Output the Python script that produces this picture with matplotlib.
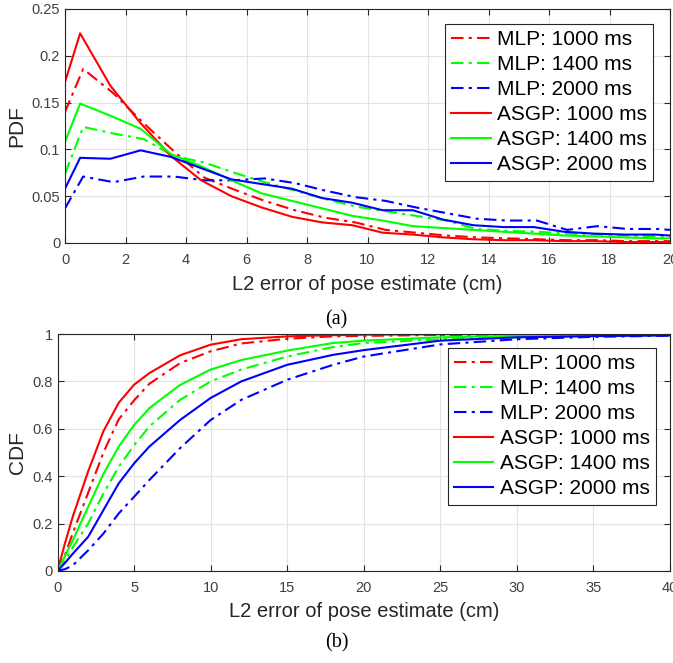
import matplotlib
matplotlib.use("Agg")
import matplotlib.pyplot as plt

# ---------------- PDF data ----------------
x_asgp = [0, 0.5, 1.5, 2.5, 3.5, 4.5, 5.5, 6.5, 7.5, 8.5, 9.5, 10.5, 11.5, 12.5,
          13.5, 14.5, 15.5, 16.5, 17.5, 18.5, 19.5, 20]
x_mlp = [0, 0.6, 1.6, 2.6, 3.6, 4.6, 5.6, 6.6, 7.6, 8.6, 9.6, 10.6, 11.6, 12.6,
         13.6, 14.6, 15.6, 16.6, 17.6, 18.6, 19.6, 20]

pdf_mlp_1000 = [0.140, 0.186, 0.160, 0.128, 0.098, 0.070, 0.057, 0.045, 0.035, 0.027,
                0.022, 0.014, 0.011, 0.008, 0.006, 0.005, 0.004, 0.003, 0.003, 0.002,
                0.002, 0.002]
pdf_mlp_1400 = [0.074, 0.124, 0.117, 0.111, 0.093, 0.086, 0.075, 0.065, 0.056, 0.047,
                0.039, 0.034, 0.029, 0.024, 0.015, 0.013, 0.012, 0.010, 0.009, 0.008,
                0.007, 0.006]
pdf_mlp_2000 = [0.037, 0.071, 0.065, 0.071, 0.071, 0.067, 0.067, 0.069, 0.064, 0.056,
                0.049, 0.045, 0.038, 0.032, 0.026, 0.024, 0.024, 0.014, 0.018, 0.015,
                0.015, 0.014]
pdf_asgp_1000 = [0.172, 0.224, 0.168, 0.128, 0.093, 0.067, 0.050, 0.038, 0.028, 0.022,
                 0.019, 0.011, 0.009, 0.006, 0.004, 0.003, 0.003, 0.002, 0.002, 0.001,
                 0.001, 0.001]
pdf_asgp_1400 = [0.108, 0.149, 0.136, 0.122, 0.095, 0.082, 0.067, 0.053, 0.045, 0.037,
                 0.029, 0.024, 0.018, 0.016, 0.014, 0.012, 0.010, 0.008, 0.007, 0.006,
                 0.005, 0.005]
pdf_asgp_2000 = [0.058, 0.091, 0.090, 0.099, 0.092, 0.080, 0.068, 0.063, 0.058, 0.048,
                 0.043, 0.035, 0.035, 0.025, 0.019, 0.017, 0.017, 0.012, 0.010, 0.009,
                 0.009, 0.008]

# ---------------- CDF data ----------------
x_cdf = [0, 0.5, 1, 2, 3, 4, 5, 6, 8, 10, 12, 15, 18, 20, 25, 30, 35, 40]
cdf_mlp_1000 = [0, 0.07, 0.16, 0.33, 0.50, 0.64, 0.72, 0.79, 0.877, 0.927, 0.96, 0.98, 0.99,
                0.992, 0.996, 0.998, 0.999, 1.0]
cdf_mlp_1400 = [0, 0.045, 0.10, 0.20, 0.327, 0.44, 0.53, 0.61, 0.722, 0.80, 0.85, 0.905, 0.945,
                0.962, 0.978, 0.987, 0.992, 0.995]
cdf_mlp_2000 = [0, 0.008, 0.024, 0.087, 0.158, 0.243, 0.313, 0.384, 0.518, 0.637, 0.722, 0.807,
                0.87, 0.905, 0.956, 0.978, 0.988, 0.993]
cdf_asgp_1000 = [0, 0.12, 0.23, 0.42, 0.59, 0.71, 0.786, 0.835, 0.91, 0.955, 0.978, 0.99, 0.995,
                 0.997, 0.999, 1.0, 1.0, 1.0]
cdf_asgp_1400 = [0, 0.065, 0.13, 0.27, 0.41, 0.525, 0.616, 0.687, 0.785, 0.85, 0.89, 0.93, 0.962,
                 0.972, 0.986, 0.992, 0.995, 0.997]
cdf_asgp_2000 = [0, 0.035, 0.073, 0.144, 0.257, 0.37, 0.454, 0.525, 0.637, 0.73, 0.80, 0.87, 0.912,
                 0.932, 0.972, 0.986, 0.991, 0.994]

labels = ["MLP: 1000 ms", "MLP: 1400 ms", "MLP: 2000 ms",
          "ASGP: 1000 ms", "ASGP: 1400 ms", "ASGP: 2000 ms"]
colors = ["#ff0000", "#00ff00", "#0000ff"]

plt.rcParams['font.family'] = ['Liberation Sans', 'DejaVu Sans']
W, H = 673, 663
fig = plt.figure(figsize=(W / 100, H / 100), dpi=100)

ax1 = fig.add_axes([65 / W, 1 - 243 / H, (670 - 65) / W, (243 - 9) / H])
ax2 = fig.add_axes([57.5 / W, 1 - 571 / H, (670 - 57.5) / W, (571 - 334) / H])

dd = (6, 2.5, 1.5, 2.5)
lw = 1.5


def style(ax):
    ax.grid(True, color="#e3e3e3", linewidth=0.8)
    ax.set_axisbelow(True)
    for s in ax.spines.values():
        s.set_color("#262626")
        s.set_linewidth(0.8)
    ax.tick_params(direction="in", top=True, right=True, colors="#262626",
                   labelcolor="#404040", labelsize=10.5, length=4, width=0.8)
    ax.tick_params(axis="x", pad=7)
    ax.tick_params(axis="y", pad=3.5)


def legend(ax, anchor):
    leg = ax.legend(loc="upper right", bbox_to_anchor=anchor, fontsize=15,
                    frameon=True, fancybox=False, framealpha=1, edgecolor="#262626",
                    labelspacing=0.29, handlelength=1.9, handletextpad=0.3,
                    borderpad=0.3, borderaxespad=0)
    leg.get_frame().set_linewidth(0.8)
    return leg


# top
mlp_pdf = [pdf_mlp_1000, pdf_mlp_1400, pdf_mlp_2000]
asgp_pdf = [pdf_asgp_1000, pdf_asgp_1400, pdf_asgp_2000]
for i in range(3):
    ax1.plot(x_mlp, mlp_pdf[i], color=colors[i], lw=lw, dashes=dd, label=labels[i])
for i in range(3):
    ax1.plot(x_asgp, asgp_pdf[i], color=colors[i], lw=lw, label=labels[3 + i])
ax1.set_xlim(0, 20)
ax1.set_ylim(0, 0.25)
ax1.set_xticks(range(0, 21, 2))
ax1.set_yticks([0, 0.05, 0.1, 0.15, 0.2, 0.25])
ax1.set_yticklabels(["0", "0.05", "0.1", "0.15", "0.2", "0.25"])
style(ax1)
ax1.set_xlabel("L2 error of pose estimate (cm)", fontsize=14.5, color="#262626", labelpad=6)
ax1.set_ylabel("PDF", fontsize=15, color="#262626", labelpad=4)
legend(ax1, (0.972, 0.936))

# bottom
mlp_cdf = [cdf_mlp_1000, cdf_mlp_1400, cdf_mlp_2000]
asgp_cdf = [cdf_asgp_1000, cdf_asgp_1400, cdf_asgp_2000]
for i in range(3):
    ax2.plot(x_cdf, mlp_cdf[i], color=colors[i], lw=lw, dashes=dd, label=labels[i])
for i in range(3):
    ax2.plot(x_cdf, asgp_cdf[i], color=colors[i], lw=lw, label=labels[3 + i])
ax2.set_xlim(0, 40)
ax2.set_ylim(0, 1)
ax2.set_xticks(range(0, 41, 5))
ax2.set_yticks([0, 0.2, 0.4, 0.6, 0.8, 1.0])
ax2.set_yticklabels(["0", "0.2", "0.4", "0.6", "0.8", "1"])
style(ax2)
ax2.set_xlabel("L2 error of pose estimate (cm)", fontsize=14.5, color="#262626", labelpad=5)
ax2.set_ylabel("CDF", fontsize=15, color="#262626", labelpad=4)
legend(ax2, (0.977, 0.941))

fig.text(336 / W, 1 - 319.5 / H, "(a)", ha="center", va="center", fontsize=14.5,
         family=["Liberation Serif", "DejaVu Serif"])
fig.text(337 / W, 1 - 643 / H, "(b)", ha="center", va="center", fontsize=14.5,
         family=["Liberation Serif", "DejaVu Serif"])

fig.savefig("out.png", dpi=100)
